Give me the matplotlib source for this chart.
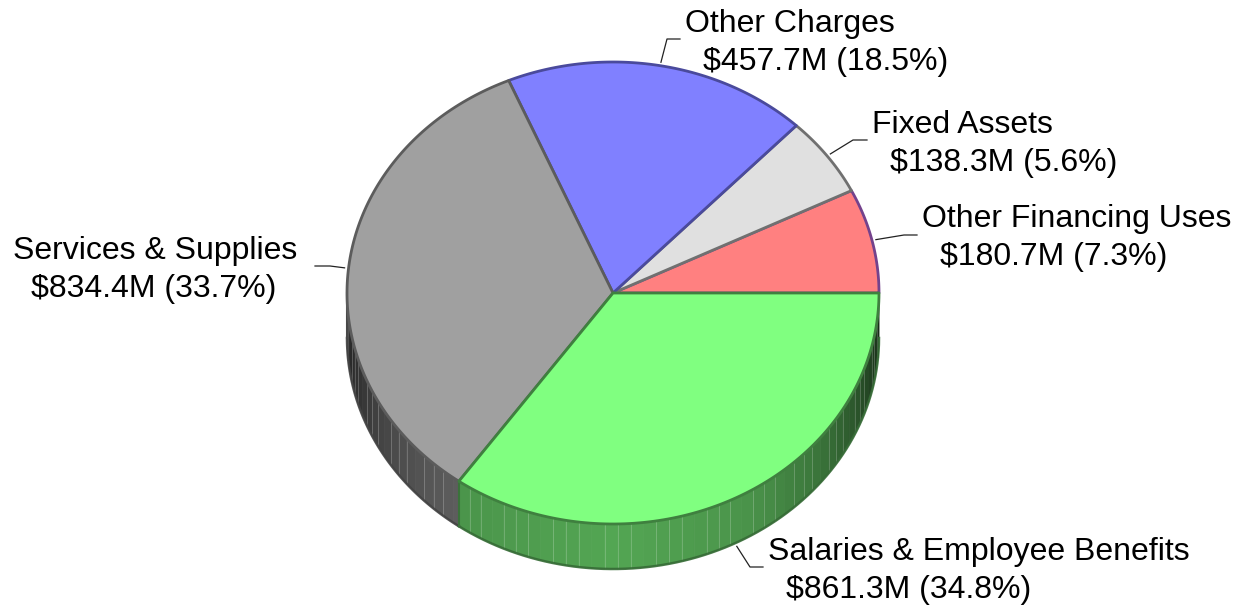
import numpy as np
import matplotlib
matplotlib.use('Agg')
import matplotlib.pyplot as plt
from matplotlib.patches import Polygon

plt.rcParams['font.family'] = ['Liberation Sans', 'DejaVu Sans']

names = ['Other Financing Uses', 'Fixed Assets', 'Other Charges', 'Services & Supplies', 'Salaries & Employee Benefits']
amounts = [180.7, 138.3, 457.7, 834.4, 861.3]
percents = ['7.3%', '5.6%', '18.5%', '33.7%', '34.8%']
colors = ['#ff8080', '#e0e0e0', '#8080ff', '#a0a0a0', '#80ff80']
edges = ['#74428c', '#707070', '#4a4a9c', '#5c5c5c', '#3f803f']

# label positions, pixels from top left
label_x = [922, 872, 685, 13, 768]
label_y = [219, 125, 24, 251, 552]
elbow_x = [904, 853, 667, 330, 750]
elbow_y = [235, 140, 39, 266, 567]
end_x = [917, 867, 680, 315, 763]

cx, cy = 613, 293
rx, ry = 266, 231
depth = 45


def ell(a, dy=0, k=1.0):
    a = np.radians(a)
    return cx + k * rx * np.cos(a), cy - k * ry * np.sin(a) + dy


# brightness of the rim going round the front
def rim_shade(a):
    return np.interp(a, [180, 195, 215, 234, 270, 300, 320, 335, 350, 360],
                     [0.2, 0.3, 0.47, 0.58, 0.65, 0.58, 0.46, 0.34, 0.22, 0.17])


fig = plt.figure(figsize=(12.4, 6.08), dpi=100)
ax = fig.add_axes([0, 0, 1, 1])
ax.set_xlim(0, 1240)
ax.set_ylim(608, 0)
ax.axis('off')

total = sum(amounts)
stops = np.concatenate([[0], np.cumsum(amounts) / total * 360])

# rim
for i in range(len(amounts)):
    a0, a1 = stops[i], stops[i + 1]
    lo, hi = max(a0, 180), a1
    if hi <= lo:
        continue
    base = np.array(matplotlib.colors.to_rgb(colors[i]))
    steps = np.arange(lo, hi, 2.8)
    for n, s in enumerate(steps):
        e = min(s + 2.8, hi)
        t = np.linspace(s, e, 5)
        x0, y0 = ell(t)
        x1, y1 = ell(t[::-1], depth)
        pts = np.column_stack([np.r_[x0, x1], np.r_[y0, y1]])
        ax.add_patch(Polygon(pts, fc=base * rim_shade((s + e) / 2), ec=base * rim_shade((s + e) / 2),
                             lw=0.5, zorder=2))
        if n % 4 != 3 and n > 0:
            lx, ly = ell(s)
            ax.plot([lx, lx], [ly, ly + depth], color='white', alpha=0.2, lw=0.7, zorder=2.5)
    t = np.linspace(lo, hi, 80)
    xb, yb = ell(t, depth)
    ax.plot(xb, yb, color=base * 0.42, alpha=0.9, lw=1.8, zorder=3)
    xe, ye = ell(lo)
    ax.plot([xe, xe], [ye, ye + depth], color=base * 0.45, lw=1.5, zorder=3)

# top face
for i in range(len(amounts)):
    t = np.linspace(stops[i], stops[i + 1], 120)
    x, y = ell(t)
    pts = np.column_stack([np.r_[cx, x], np.r_[cy, y]])
    ax.add_patch(Polygon(pts, closed=True, fc=colors[i], ec=edges[i], lw=2,
                         joinstyle='round', zorder=4 + (i == 4) * 0.5))

# labels and leaders
for i in range(len(names)):
    mid = (stops[i] + stops[i + 1]) / 2
    lift = depth if i == 4 else 0
    sx, sy = ell(mid, lift, 1.015)
    ax.plot([sx, elbow_x[i], end_x[i]], [sy, elbow_y[i], elbow_y[i]], color='#222222', lw=0.9, zorder=5)
    ax.text(label_x[i], label_y[i], names[i], fontsize=23, color='black', va='center', ha='left', zorder=6)
    ax.text(label_x[i] + 18, label_y[i] + 38, '$%.1fM (%s)' % (amounts[i], percents[i]),
            fontsize=23, color='black', va='center', ha='left', zorder=6)

fig.savefig('out.png', dpi=100)
